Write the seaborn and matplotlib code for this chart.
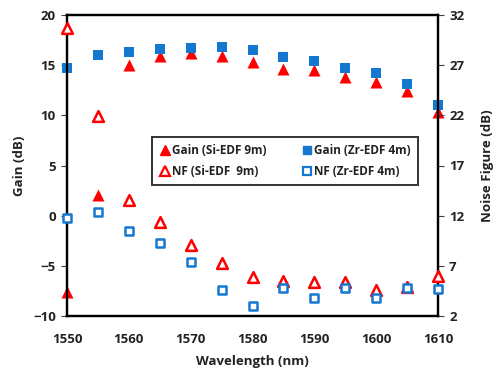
import matplotlib
matplotlib.use("Agg")
import matplotlib.pyplot as plt
import numpy as np
import pandas as pd
import seaborn as sns
from matplotlib.lines import Line2D

wavelength = [1550, 1555, 1560, 1565, 1570, 1575, 1580, 1585, 1590, 1595, 1600, 1605, 1610]
gain_si = [-7.6, 2.1, 15.0, 15.9, 16.2, 15.9, 15.3, 14.6, 14.5, 13.8, 13.3, 12.4, 10.3]
gain_zr = [14.7, 16.0, 16.3, 16.6, 16.7, 16.8, 16.5, 15.8, 15.4, 14.7, 14.2, 13.1, 11.0]
nf_si = [30.7, 21.9, 13.6, 11.4, 9.1, 7.3, 5.9, 5.5, 5.4, 5.4, 4.6, 4.9, 6.0]
nf_zr = [11.8, 12.4, 10.5, 9.3, 7.4, 4.6, 3.0, 4.8, 3.8, 4.8, 3.8, 4.8, 4.7]

red = "#FF0000"
blue = "#1578D0"
grey = "#404040"

df = pd.DataFrame({
    "wl": wavelength,
    "gain_si": gain_si,
    "gain_zr": gain_zr,
    "nf_si": nf_si,
    "nf_zr": nf_zr,
})

sns.set_style("white")
plt.rcParams["font.family"] = ["Open Sans", "DejaVu Sans"]
plt.rcParams["font.weight"] = "bold"

fig = plt.figure(figsize=(4.96, 3.72), dpi=100)
ax = fig.add_axes([67 / 496, 1 - 316 / 372, 371 / 496, 301 / 372])
ax2 = ax.twinx()

# gains on the left axis
sns.scatterplot(data=df, x="wl", y="gain_si", ax=ax, marker="^", s=75,
                color=red, edgecolor=red, linewidth=0, clip_on=False, zorder=3)
sns.scatterplot(data=df, x="wl", y="gain_zr", ax=ax, marker="s", s=55,
                color=blue, edgecolor=blue, linewidth=0, clip_on=False, zorder=3)

# noise figure on the right axis
sns.scatterplot(data=df, x="wl", y="nf_si", ax=ax2, marker="^", s=60,
                facecolor="white", edgecolor=red, linewidth=1.8, clip_on=False, zorder=3)
sns.scatterplot(data=df, x="wl", y="nf_zr", ax=ax2, marker="s", s=40,
                facecolor="white", edgecolor=blue, linewidth=1.8, clip_on=False, zorder=3)

ax.set_xlim(1550, 1610)
ax.set_ylim(-10, 20)
ax2.set_ylim(2, 32)
ax.set_xticks(np.arange(1550, 1611, 10))
ax.set_yticks(np.arange(-10, 21, 5))
ax2.set_yticks(np.arange(2, 33, 5))

for a in (ax, ax2):
    for side in a.spines:
        a.spines[side].set_color("black")
        a.spines[side].set_linewidth(1.6)
    a.tick_params(labelsize=9.5, colors=grey, labelcolor="#222222", length=4, width=0.8)
    for lab in a.get_xticklabels() + a.get_yticklabels():
        lab.set_fontweight("bold")
ax.tick_params(axis="x", length=0, pad=12)
ax.tick_params(axis="y", pad=4)
ax2.tick_params(axis="y", pad=4)

ax.set_xlabel("Wavelength (nm)", fontsize=9.5, fontweight="bold", color="#222222", labelpad=7)
ax.set_ylabel("Gain (dB)", fontsize=9.5, fontweight="bold", color="#222222", labelpad=5)
ax2.set_ylabel("Noise Figure (dB)", fontsize=9.5, fontweight="bold", color="#222222", labelpad=12)

handles = [
    Line2D([], [], marker="^", ls="", color=red, markersize=7),
    Line2D([], [], marker="^", ls="", markerfacecolor="white", markeredgecolor=red,
           markeredgewidth=1.6, markersize=7),
    Line2D([], [], marker="s", ls="", color=blue, markersize=6),
    Line2D([], [], marker="s", ls="", markerfacecolor="white", markeredgecolor=blue,
           markeredgewidth=1.6, markersize=6),
]
labels = ["Gain (Si-EDF 9m)", "NF (Si-EDF  9m)", "Gain (Zr-EDF 4m)", "NF (Zr-EDF 4m)"]
leg = ax2.legend(handles, labels, ncol=2, loc="lower left",
                 bbox_to_anchor=(0.23, 0.435, 0.716, 0.16), mode="expand",
                 borderaxespad=0, frameon=True, fancybox=False, fontsize=8.5,
                 handletextpad=0.1, handlelength=1.0, borderpad=0.6,
                 labelspacing=0.7, columnspacing=1.0)
leg.get_frame().set_edgecolor("black")
leg.get_frame().set_linewidth(1.4)
for t in leg.get_texts():
    t.set_fontweight("bold")
    t.set_color("#222222")

fig.savefig("out.png", dpi=100)
